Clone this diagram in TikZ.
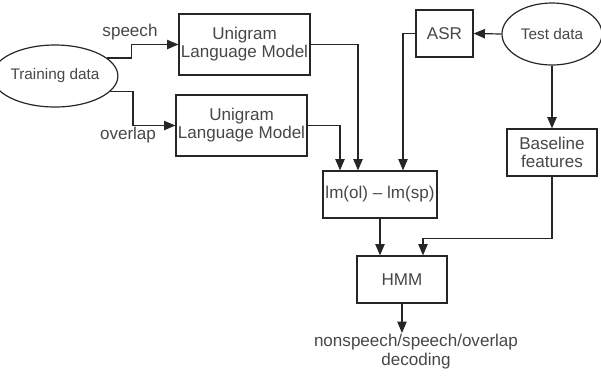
\documentclass[tikz,border=0pt]{standalone}
\usepackage{fontspec}
\setmainfont{Liberation Sans}
\usetikzlibrary{positioning,shapes.geometric,arrows.meta,calc}

\begin{document}
\begin{tikzpicture}[x=0.75pt,y=-0.75pt,
    every node/.style={text=black!72,font=\fontsize{12.8}{13.6}\selectfont},
    box/.style={draw=black!85,line width=0.9pt,align=center,inner sep=0pt,minimum height=35.25pt},
    data/.style={draw=black!85,line width=0.9pt,ellipse,inner sep=0pt,minimum height=46.5pt,font=\fontsize{11.5}{13}\selectfont},
    arrow/.style={draw=black!85,line width=0.9pt,-{Triangle[length=8.5pt,width=7pt]}}]
                \useasboundingbox (0,0) rectangle (601,376);

                %Nodes
                \node[data,minimum width=76.5pt] at (55,76) (train) {Training data};
                \node[data,minimum width=75pt] at (552,34) (test) {Test data};
                \node[box,minimum width=98.25pt,minimum height=45.75pt] at (244.5,44.5) (uni1) {Unigram\\Language Model};
                \node[box,minimum width=98.25pt,minimum height=45.75pt] at (241.5,125.5) (uni2) {Unigram\\Language Model};
                \node[box,minimum width=42.75pt] at (444.5,33.5) (asr) {ASR};
                \node[box,minimum width=85.5pt] at (380,194.5) (lm) {lm(ol) -- lm(sp)};
                \node[box,minimum width=67.5pt] at (552,152.5) (base) {Baseline\\features};
                \node[box,minimum width=67.5pt] at (402,279.5) (hmm) {HMM};
                \node[align=center,inner sep=1pt,font=\fontsize{12.8}{14.2}\selectfont] at (416,352) (out) {nonspeech/speech/overlap\\decoding};
                \node at (130,32) (sp) {speech};
                \node at (128,135) (ol) {overlap};

                %Lines
                \draw[arrow] (train.19) -- ++(24,0) |- (uni1.west);
                \draw[arrow] (train.-16) -- ++(23,0) |- (uni2.west);
                \draw[arrow] (uni1.east) -| ($(lm.north)+(-22,0)$);
                \draw[arrow] (uni2.east) -| ($(lm.north)+(-40,0)$);
                \draw[arrow] (test.west) -- (asr.east);
                \draw[arrow] (asr.west) -| ($(lm.north)+(23,0)$);
                \draw[arrow] (test.south) -- (base.north);
                \draw[arrow] (lm.south) -- (lm.south |- hmm.north);
                \draw[arrow] (base.south) -- ++(0,62) -| ($(hmm.north)+(21,0)$);
                \draw[arrow] (hmm.south) -- (hmm.south |- out.north);
            \end{tikzpicture}
\end{document}
